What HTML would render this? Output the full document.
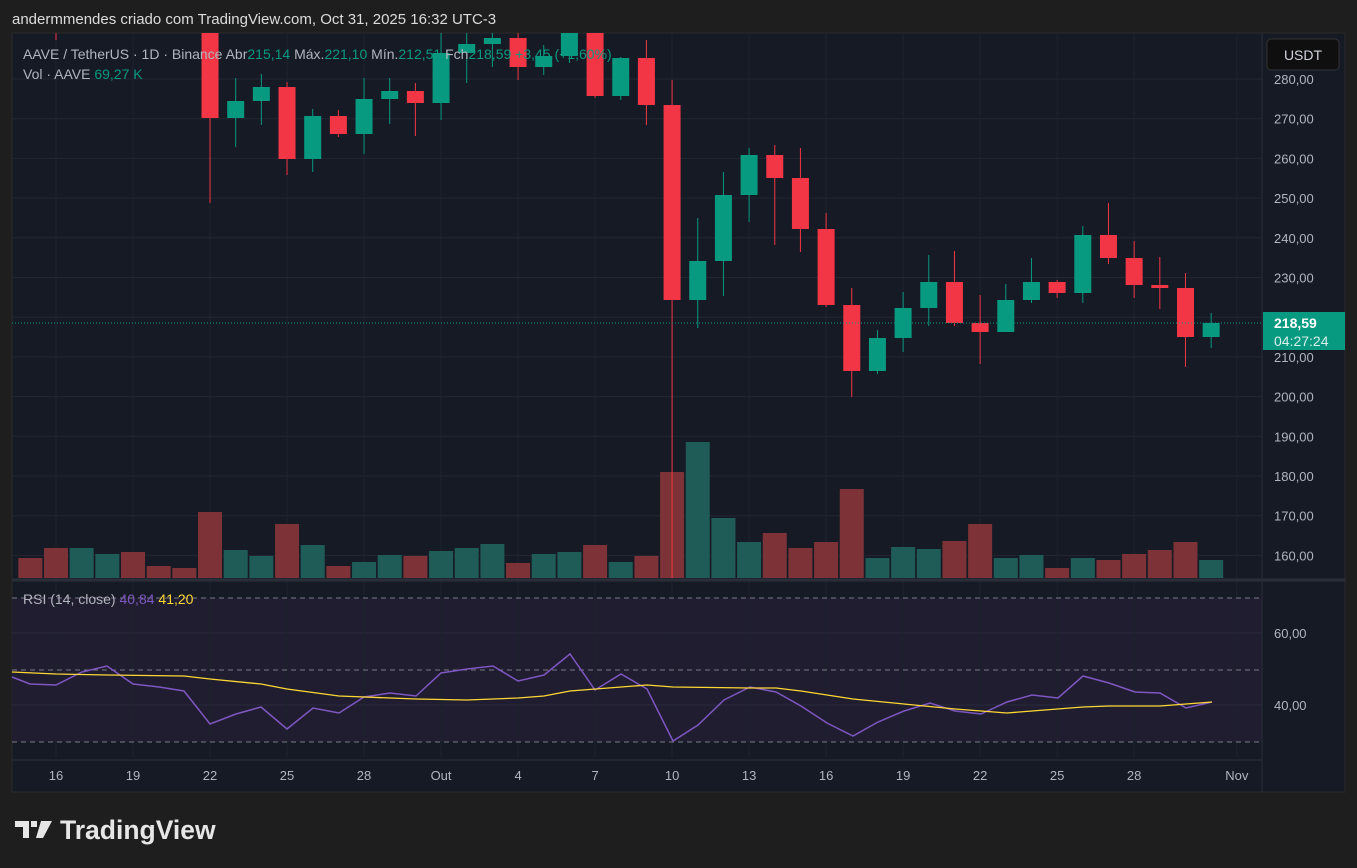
<!DOCTYPE html>
<html><head><meta charset="utf-8"><style>
html,body{margin:0;padding:0;background:#1e1e1e;width:1357px;height:868px;overflow:hidden;font-family:"Liberation Sans",sans-serif}
svg{position:absolute;left:0;top:0}
</style></head><body>
<svg id="s" width="1357" height="868" xmlns="http://www.w3.org/2000/svg" font-family="Liberation Sans, sans-serif">
<rect x="0" y="0" width="1357" height="868" fill="#1e1e1e"/>
<text x="12" y="24" fill="#dcdcdc" font-size="15">andermmendes criado com TradingView.com, Oct 31, 2025 16:32 UTC-3</text>
<rect x="12" y="33" width="1333" height="759" fill="#161a25" stroke="#2a2a2a"/>
<rect x="12" y="598" width="1250" height="144" fill="#1f1d2f"/>
<g id="g"></g>
</svg>
<script>
const g=document.getElementById('g');let h='';
const X=i=>56+i*25.67;
for(let p=160;p<=280;p+=10){const y=79+(280-p)*3.97;h+=`<line x1="12" x2="1262" y1="${y}" y2="${y}" stroke="#232632"/>`;}
h+=`<line x1="12" x2="1262" y1="633" y2="633" stroke="#2a2a3c"/><line x1="12" x2="1262" y1="705" y2="705" stroke="#2a2a3c"/>`;
const labs=[[0,'16'],[3,'19'],[6,'22'],[9,'25'],[12,'28'],[15,'Out'],[18,'4'],[21,'7'],[24,'10'],[27,'13'],[30,'16'],[33,'19'],[36,'22'],[39,'25'],[42,'28'],[46,'Nov']];
labs.forEach(([i,t])=>{const x=X(i);h+=`<line x1="${x}" x2="${x}" y1="33" y2="757" stroke="#1f232e"/><text x="${x}" y="780" fill="#b2b5be" font-size="13" text-anchor="middle">${t}</text>`;});
const vol=[[-1,558,0],[0,548,0],[1,548,1],[2,554,1],[3,552,0],[4,566,0],[5,568,0],[6,512,0],[7,550,1],[8,556,1],[9,524,0],[10,545,1],[11,566,0],[12,562,1],[13,555,1],[14,556,0],[15,551,1],[16,548,1],[17,544,1],[18,563,0],[19,554,1],[20,552,1],[21,545,0],[22,562,1],[23,556,0],[24,472,0],[25,442,1],[26,518,1],[27,542,1],[28,533,0],[29,548,0],[30,542,0],[31,489,0],[32,558,1],[33,547,1],[34,549,1],[35,541,0],[36,524,0],[37,558,1],[38,555,1],[39,568,0],[40,558,1],[41,560,0],[42,554,0],[43,550,0],[44,542,0],[45,560,1]];
vol.forEach(([i,t,c])=>{let x=X(i)-12;let w=24;if(x<12){w-=12-x;x=12;}h+=`<rect x="${x}" y="${t}" width="${w}" height="${578-t}" fill="${c?'#1f5c57':'#7c3237'}"/>`;});
const cd=[[0,20,33,25,40],[6,33,118,33,203],[7,118,101,78,147],[8,101,87,74,125],[9,87,159,82,175],[10,159,116,109,172],[11,116,134,110,137],[12,134,99,78,154],[13,99,91,78,124],[14,91,103,83,136],[15,103,53,33,120],[16,53,44,33,83],[17,44,38,33,67],[18,38,67,33,80],[19,67,56,45,75],[20,56,30,30,63],[21,30,96,30,98],[22,96,58,57,100],[23,58,105,40,125],[24,105,300,80,578],[25,300,261,218,328],[26,261,195,172,296],[27,195,155,148,222],[28,155,178,145,245],[29,178,229,148,252],[30,229,305,213,307],[31,305,371,288,397],[32,371,338,330,374],[33,338,308,292,352],[34,308,282,255,326],[35,282,323,251,326],[36,323,332,295,364],[37,332,300,284,332],[38,300,282,258,303],[39,282,293,280,298],[40,293,235,226,303],[41,235,258,203,264],[42,258,285,241,298],[43,285,288,257,309],[44,288,337,273,367],[45,337,323,313,348]];
h+='<svg x="12" y="33" width="1250" height="759" overflow="hidden"><g transform="translate(-12,-33)">';
cd.forEach(([i,o,c,hi,lo])=>{const x=X(i);const up=c<o;const col=up?'#089981':'#f23645';const t=Math.min(o,c),b=Math.max(o,c);
h+=`<line x1="${x}" x2="${x}" y1="${hi}" y2="${lo}" stroke="${col}" stroke-width="1"/><rect x="${x-8.5}" y="${t}" width="17" height="${Math.max(b-t,2)}" fill="${col}"/>`;});
h+='</g></svg>';
[598,670,742].forEach(y=>h+=`<line x1="12" x2="1262" y1="${y}" y2="${y}" stroke="#787b86" stroke-dasharray="5,4"/>`);
const rsi=[[12,677],[30,684],[56,685],[82,672],[107,666],[133,684],[159,687],[184,691],[210,724],[236,714],[261,707],[287,729],[313,708],[339,713],[364,697],[390,693],[416,696],[441,673],[467,669],[493,666],[518,681],[544,675],[570,654],[595,690],[621,674],[647,689],[673,741],[698,725],[724,700],[750,687],[776,692],[801,706],[827,723],[853,736],[878,722],[904,711],[930,703],[955,711],[981,714],[1007,702],[1032,695],[1058,698],[1083,676],[1109,683],[1135,692],[1160,693],[1186,708],[1212,702]];
const ma=[[12,672],[56,674],[107,675],[184,676],[210,679],[261,684],[287,689],[339,696],[416,699],[467,700],[518,698],[544,696],[570,691],[621,687],[647,685],[673,687],[750,688],[776,688],[801,691],[853,699],[904,704],[955,709],[1007,713],[1032,711],[1083,707],[1109,706],[1160,706],[1212,702]];
h+=`<polyline points="${rsi.join(' ')}" fill="none" stroke="#7e57c2" stroke-width="1.5"/>`;
h+=`<polyline points="${ma.join(' ')}" fill="none" stroke="#fdd835" stroke-width="1.3"/>`;
h+=`<line x1="12" x2="1345" y1="580" y2="580" stroke="#2a2e39" stroke-width="3"/>`;
h+=`<line x1="1262" x2="1262" y1="33" y2="792" stroke="#2a2e39"/>`;
h+=`<line x1="12" x2="1262" y1="760" y2="760" stroke="#2a2e39"/>`;
for(let p=160;p<=280;p+=10){const y=79+(280-p)*3.97;h+=`<text x="1274" y="${y+5}" fill="#b2b5be" font-size="13">${p},00</text>`;}
h+=`<text x="1274" y="638" fill="#b2b5be" font-size="13">60,00</text><text x="1274" y="710" fill="#b2b5be" font-size="13">40,00</text>`;
h+=`<rect x="1267" y="39" width="72" height="31" rx="4" fill="#0f0f0f" stroke="#333"/><text x="1303" y="60" fill="#d1d4dc" font-size="14" text-anchor="middle">USDT</text>`;
h+=`<line x1="12" x2="1262" y1="323" y2="323" stroke="#089981" stroke-dasharray="1,2"/>`;
h+=`<rect x="1263" y="312" width="82" height="38" fill="#089981"/><text x="1274" y="328" fill="#fff" font-size="14" font-weight="bold">218,59</text><text x="1274" y="346" fill="#d8f0ea" font-size="14">04:27:24</text>`;
h+=`<text x="23" y="59" font-size="14" fill="#b2b5be">AAVE / TetherUS · 1D · Binance  Abr<tspan fill="#089981">215,14</tspan>  Máx.<tspan fill="#089981">221,10</tspan>  Mín.<tspan fill="#089981">212,51</tspan>  Fch<tspan fill="#089981">218,59  +3,45 (+1,60%)</tspan></text>`;
h+=`<text x="23" y="79" font-size="14" fill="#b2b5be">Vol · AAVE  <tspan fill="#089981">69,27 K</tspan></text>`;
h+=`<text x="23" y="604" font-size="14" fill="#b2b5be">RSI (14, close)  <tspan fill="#7e57c2">40,84</tspan>  <tspan fill="#fdd835">41,20</tspan></text>`;
h+=`<path d="M15 821h14v17h-6v-11h-8z M31 821h6v6h-6z M41 821h11l-9 17h-7z" fill="#e6e6e6"/><text x="60" y="839" font-size="26.5" font-weight="bold" fill="#e6e6e6">TradingView</text>`;
g.innerHTML=h;
</script>
</body></html>
